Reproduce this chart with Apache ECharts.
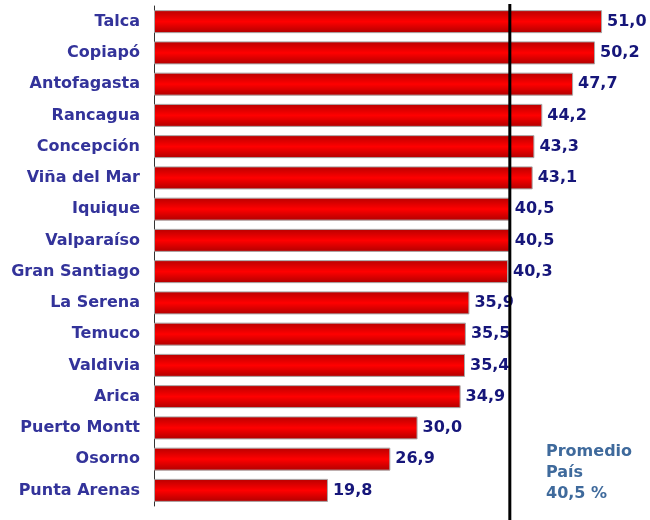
<!DOCTYPE html>
<html>
<head>
<meta charset="utf-8">
<script src="https://cdn.jsdelivr.net/npm/echarts@6/dist/echarts.min.js"></script>
<style>
  html, body { margin: 0; padding: 0; background: #fff; }
  #chart { width: 650px; height: 520px; }
</style>
</head>
<body>
<div id="chart"></div>
<script>
// ciudades, de arriba hacia abajo
const cities = ['Talca', 'Copiapó', 'Antofagasta', 'Rancagua', 'Concepción', 'Viña del Mar',
  'Iquique', 'Valparaíso', 'Gran Santiago', 'La Serena', 'Temuco', 'Valdivia',
  'Arica', 'Puerto Montt', 'Osorno', 'Punta Arenas']
const values = [51.0, 50.2, 47.7, 44.2, 43.3, 43.1, 40.5, 40.5, 40.3, 35.9, 35.5, 35.4, 34.9, 30.0, 26.9, 19.8]
const promedio = 40.5
const promedioText = ['Promedio', 'País', '40,5 %']

const chart = echarts.init(document.getElementById('chart'))

chart.setOption({
  animation: false,
  grid: { left: 154, top: 6, width: 492, height: 500, containLabel: false },
  xAxis: {
    type: 'value',
    min: 0,
    max: 56,
    show: false
  },
  yAxis: {
    type: 'category',
    inverse: true,
    data: cities,
    axisLine: { show: true, lineStyle: { color: '#333', width: 1 } },
    axisTick: { show: false },
    axisLabel: {
      color: '#33339a',
      fontFamily: 'DejaVu Sans',
      fontWeight: 'bold',
      fontSize: 16,
      margin: 14
    }
  },
  series: [{
    type: 'bar',
    data: values,
    barWidth: 23,
    itemStyle: {
      borderColor: '#a8a8a8',
      borderWidth: 1,
      color: new echarts.graphic.LinearGradient(0, 0, 0, 1, [
        { offset: 0, color: '#b80000' },
        { offset: 0.5, color: '#ff0000' },
        { offset: 1, color: '#b00000' }
      ])
    },
    label: {
      show: true,
      position: 'right',
      distance: 5,
      color: '#16167a',
      fontFamily: 'DejaVu Sans',
      fontWeight: 'bold',
      fontSize: 16,
      formatter: p => p.value.toFixed(1).replace('.', ',')
    }
  }]
})

// linea del promedio, de arriba a abajo del cuadro
const px = chart.convertToPixel({ xAxisIndex: 0 }, promedio)
chart.setOption({
  graphic: [
    {
      type: 'line',
      z: 100,
      shape: { x1: px, y1: 4, x2: px, y2: 520 },
      style: { stroke: '#000', lineWidth: 3 }
    },
    {
      type: 'text',
      left: 546,
      top: 441,
      z: 100,
      style: {
        text: promedioText.join('\n'),
        fill: '#3f6a9c',
        font: 'bold 16px "DejaVu Sans"',
        lineHeight: 21
      }
    }
  ]
})
</script>
</body>
</html>
